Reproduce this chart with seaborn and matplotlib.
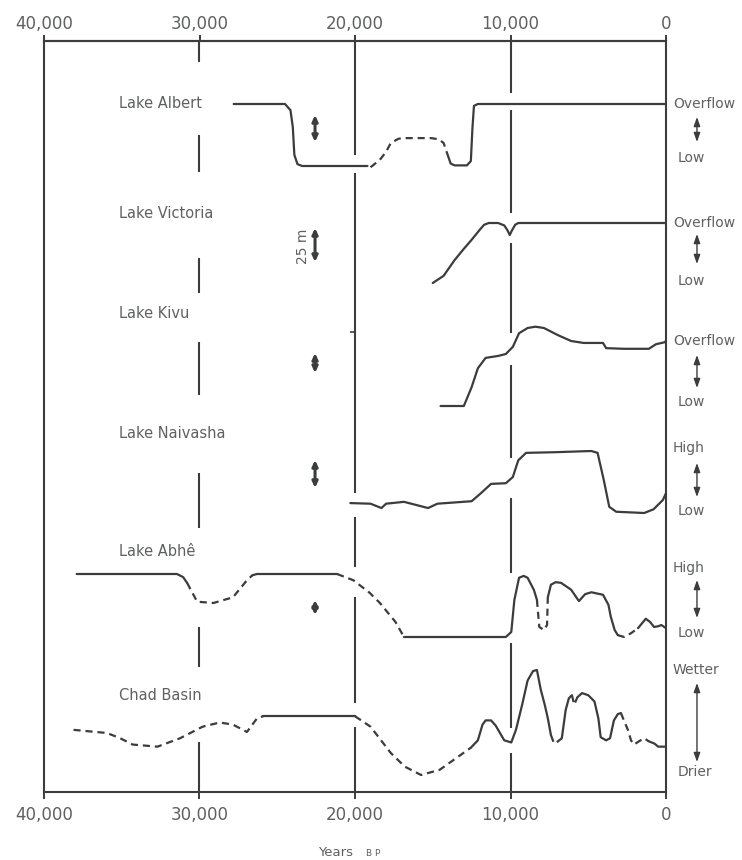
import matplotlib
matplotlib.use("Agg")
import matplotlib.pyplot as plt
import matplotlib.transforms as mtransforms
import seaborn as sns
import pandas as pd

# ---------------- data (years BP in thousands, level 0 = Low, 100 = Overflow/High) ----
lakes = ["Lake Albert", "Lake Victoria", "Lake Kivu", "Lake Naivasha", "Lake Abhê", "Chad Basin"]
top_labels = ["Overflow", "Overflow", "Overflow", "High", "High", "Wetter"]
bottom_labels = ["Low", "Low", "Low", "Low", "Low", "Drier"]
tick_years = [40000, 30000, 20000, 10000, 0]
tick_labels = ["40,000", "30,000", "20,000", "10,000", "0"]

albert_segments = [
    ("solid", [27.8, 24.5, 24.15, 24.0, 23.9, 23.7, 23.4, 19.2],
              [100, 100, 90, 63, 18, 3, 0, 0]),
    ("dashed", [19.0, 18.4, 18.0, 17.7, 17.2, 16.85, 15.1, 14.6, 14.3, 14.0],
               [-2, 10, 23, 37, 44, 45, 45, 43, 37, 15]),
    ("solid", [14.0, 13.85, 13.6, 12.8, 12.55, 12.45, 12.35, 12.1, 0.0],
              [15, 4, 1, 1, 8, 60, 97, 100, 100]),
]
victoria_segments = [
    ("solid", [15.0, 14.3, 13.6, 13.0, 12.5, 12.0, 11.7, 11.4, 10.8, 10.4, 10.2,
               10.05, 9.9, 9.7, 9.5, 0.0],
              [0, 12, 38, 57, 72, 88, 97, 100, 100, 96, 88, 80, 88, 97, 100, 100]),
]
kivu_segments = [
    ("solid", [14.5, 13.0, 12.5, 12.1, 11.6, 10.8, 10.3, 9.85, 9.45, 8.9, 8.4, 7.85,
               6.95, 6.1, 5.3, 4.05, 3.85, 2.7, 1.1, 0.65, 0.1, 0.0],
              [0, 0, 29, 58, 74, 77, 80, 91, 112, 120, 122, 120, 109, 100, 97, 97,
               89, 88, 88, 95, 98, 100]),
]
naivasha_segments = [
    ("solid", [20.3, 19.0, 18.3, 18.0, 16.85, 15.3, 14.7, 12.5, 11.9, 11.25, 10.3,
               9.85, 9.5, 9.0, 7.2, 4.8, 4.4, 4.0, 3.65, 3.2, 1.4, 0.8, 0.2, 0.0],
              [16, 15, 8, 15, 18, 8, 15, 19, 32, 47, 48, 58, 85, 97, 98, 100, 97,
               53, 10, 2, 0, 6, 21, 32]),
]
abhe_segments = [
    ("solid", [37.9, 31.45, 31.05, 30.8], [100, 100, 95, 86]),
    ("dashed", [30.8, 30.15, 29.1, 27.85, 26.95, 26.6], [86, 56, 54, 63, 90, 98]),
    ("solid", [26.6, 26.3, 21.15], [98, 100, 100]),
    ("dashed", [21.15, 20.1, 19.05, 18.4, 17.4, 16.85], [100, 90, 70, 54, 24, 0]),
    ("solid", [16.85, 10.3, 9.95, 9.75, 9.45, 9.15, 8.9, 8.5, 8.3],
              [0, 0, 8, 59, 94, 97, 94, 75, 59]),
    ("dashed", [8.3, 8.15, 7.85, 7.65, 7.6], [59, 16, 11, 19, 63]),
    ("solid", [7.6, 7.4, 7.1, 6.75, 6.1, 5.6, 5.2, 4.8, 4.05, 3.7, 3.55, 3.3, 3.1],
              [63, 83, 87, 86, 75, 57, 68, 71, 67, 51, 32, 11, 3]),
    ("dashed", [3.1, 2.7, 2.25, 1.8], [3, 0, 6, 14]),
    ("solid", [1.8, 1.3, 1.03, 0.77, 0.5, 0.3, 0.0], [14, 29, 24, 16, 17, 19, 14]),
]
chad_segments = [
    ("dashed", [38.1, 35.95, 35.1, 34.3, 32.7, 31.25, 29.8, 28.7, 27.85, 26.95, 26.3, 25.9],
               [43, 40, 35, 29, 27, 35, 46, 50, 48, 41, 54, 56]),
    ("solid", [25.9, 20.0], [56, 56]),
    ("dashed", [20.0, 19.0, 17.7, 16.8, 15.75, 14.55, 12.55], [56, 46, 21, 8, 0, 5, 26]),
    ("solid", [12.55, 12.1, 11.8, 11.6, 11.25, 10.95, 10.4, 9.95, 9.65, 9.25, 8.9,
               8.55, 8.3, 8.05, 7.8, 7.6, 7.4],
              [26, 33, 48, 52, 52, 47, 33, 31, 43, 67, 90, 99, 100, 81, 67, 54, 38]),
    ("dashed", [7.4, 7.2, 6.95, 6.7], [38, 30, 32, 35]),
    ("solid", [6.7, 6.45, 6.25, 6.05], [35, 62, 73, 76]),
    ("dashed", [6.05, 5.9, 5.7], [76, 67, 74]),
    ("solid", [5.7, 5.4, 5.0, 4.6, 4.35, 4.2, 3.85, 3.6, 3.35, 3.1, 2.9],
              [74, 78, 76, 70, 54, 36, 33, 35, 52, 58, 59]),
    ("dashed", [2.9, 2.65, 2.45, 2.25, 2.05, 1.75, 1.4, 1.1],
               [59, 50, 43, 33, 29, 32, 35, 32]),
    ("solid", [1.1, 0.75, 0.5, 0.0], [32, 30, 27, 27]),
]
all_segments = [albert_segments, victoria_segments, kivu_segments,
                naivasha_segments, abhe_segments, chad_segments]

# ---------------- layout (figure rows, pixels from top) ----------------
band_rows = [(104, 166), (223, 283), (341, 406), (451, 513), (574, 637), (670, 775)]
name_rows = [104, 214, 314, 434, 551, 695]
right_rows = [(104, 117, 142, 158), (223, 234, 264, 281), (341, 355, 388, 402),
              (448, 463, 497, 511), (568, 580, 618, 633), (670, 683, 762, 772)]
scale_rows = [(115, 142), (228, 262), (353, 373), (460, 488), (600, 615)]
vline_gaps = {
    30000: [(41, 62), (135, 172), (258, 293), (342, 395), (473, 528), (627, 667), (742, 792)],
    20000: [(41, 155), (173, 493), (517, 567), (597, 703), (727, 792)],
    10000: [(41, 93), (110, 213), (243, 333), (365, 458), (498, 573), (643, 728), (753, 792)],
}

INK = "#3a3d3b"
TXT = "#5e615f"

rows = []
sid = 0
for lake, segs, (r100, r0) in zip(lakes, all_segments, band_rows):
    for kind, yrs, lev in segs:
        for yk, lv in zip(yrs, lev):
            rows.append({"lake": lake, "seg": sid, "kind": kind,
                         "year": yk * 1000.0,
                         "row": r0 - lv / 100.0 * (r0 - r100)})
        sid += 1
df = pd.DataFrame(rows)

sns.set_theme(style="white")
plt.rcParams["font.family"] = ["DejaVu Sans"]

fig = plt.figure(figsize=(7.42, 8.6), dpi=100)
fig.patch.set_facecolor("white")
ax = fig.add_axes([44 / 742, 1 - 792 / 860, 622 / 742, 751 / 860])

sns.lineplot(data=df, x="year", y="row", units="seg", estimator=None, sort=False,
             style="kind", dashes={"solid": "", "dashed": (3.2, 2.2)},
             color=INK, linewidth=1.6, legend=False, ax=ax,
             solid_capstyle="round", solid_joinstyle="round", dash_capstyle="butt")

ax.set_xlim(40000, 0)
ax.set_ylim(792, 41)
ax.set_xlabel("")
ax.set_ylabel("")
ax.set_yticks([])
ax.set_xticks(tick_years)
ax.set_xticklabels(tick_labels)
ax.tick_params(axis="x", which="both", top=False, labeltop=False, bottom=True,
               labelbottom=True, direction="out", length=5, width=1.4,
               color=INK, labelcolor=TXT, labelsize=12, pad=5)
for s in ax.spines.values():
    s.set_visible(True)
    s.set_color(INK)
    s.set_linewidth(1.5)
ax.grid(False)

sec = ax.secondary_xaxis("top")
sec.set_xticks(tick_years)
sec.set_xticklabels(tick_labels)
sec.tick_params(axis="x", direction="out", length=4, width=1.4, color=INK,
                labelcolor=TXT, labelsize=12, pad=1.5)
sec.spines["top"].set_color(INK)
sec.spines["top"].set_linewidth(1.5)

# broken vertical reference lines
for yr, segs in vline_gaps.items():
    for a, b in segs:
        ax.vlines(yr, a, b, color=INK, linewidth=1.5)
ax.hlines(332, 20000, 20300, color=INK, linewidth=1.2)

# lake names
for name, r in zip(lakes, name_rows):
    ax.text(35200, r, name, ha="left", va="center", fontsize=10.5, color=TXT)

# right side labels with arrows
btr = mtransforms.blended_transform_factory(ax.transAxes, ax.transData)
for (t, b), (rt, a1, a2, rb) in zip(zip(top_labels, bottom_labels), right_rows):
    ax.text(1.011, rt, t, transform=btr, ha="left", va="center",
            fontsize=10, color=TXT, clip_on=False)
    ax.text(1.018, rb, b, transform=btr, ha="left", va="center",
            fontsize=10, color=TXT, clip_on=False)
    ax.annotate("", xy=(1.0498, a1), xytext=(1.0498, a2),
                xycoords=("axes fraction", "data"), textcoords=("axes fraction", "data"),
                arrowprops=dict(arrowstyle="<|-|>,head_length=0.45,head_width=0.16",
                                color=INK, lw=1.0, shrinkA=0, shrinkB=0),
                annotation_clip=False)

# scale bars
for a1, a2 in scale_rows:
    ax.annotate("", xy=(22570, a1), xytext=(22570, a2),
                arrowprops=dict(arrowstyle="<|-|>,head_length=0.28,head_width=0.13",
                                color=INK, lw=2.2, shrinkA=0, shrinkB=0))
ax.text(23350, 246, "25 m", rotation=90, ha="center", va="center",
        fontsize=10, color=TXT)

fig.text(318 / 742, 1 - 853 / 860, "Years", ha="left", va="center",
         fontsize=9.5, color=TXT)
fig.text(366 / 742, 1 - 854 / 860, "B P", ha="left", va="center",
         fontsize=6.5, color=TXT)

fig.savefig("out.png", dpi=100, facecolor="white")
